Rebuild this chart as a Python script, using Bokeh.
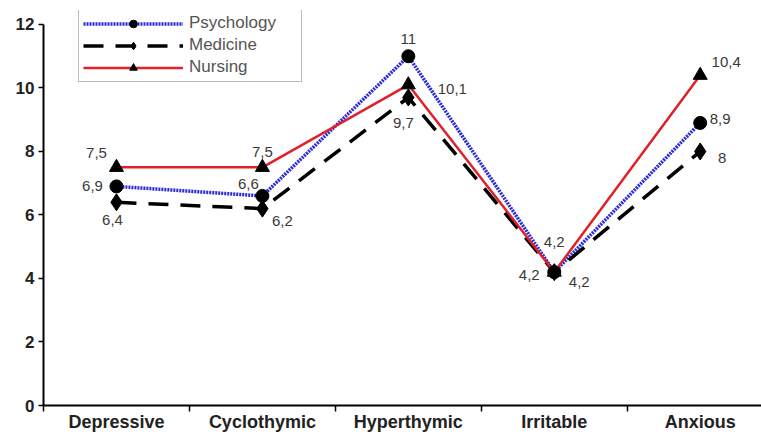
from bokeh.plotting import figure
from bokeh.models import (ColumnDataSource, Range1d, FixedTicker, Legend, LegendItem)
from bokeh.core.properties import value
from bokeh.embed import file_html
from bokeh.resources import INLINE

# ---- data ----
categories = ["Depressive", "Cyclothymic", "Hyperthymic", "Irritable", "Anxious"]
psychology = [6.9, 6.6, 11.0, 4.2, 8.9]
medicine = [6.4, 6.2, 9.7, 4.2, 8.0]
nursing = [7.5, 7.5, 10.1, 4.2, 10.4]
y_ticks = [0, 2, 4, 6, 8, 10, 12]

# label offsets (screen px) for the value annotations
psy_dx = [-24, -14, 0, 0, 20]
psy_dy = [0, -12, -17, -30, -4]
med_dx = [-4, 20, -5, 25, 22]
med_dy = [18, 12, 25, 10, 7]
nur_dx = [-20, 0, 44, -25, 26]
nur_dy = [-14, -15, 4, 3, -13]

FONT = "Liberation Sans"
xs = list(range(len(categories)))

p = figure(width=761, height=436, output_backend="svg", toolbar_location=None,
           x_range=Range1d(-0.5, 4.42), y_range=Range1d(0, 12.44))
p.min_border_left = 43
p.min_border_right = 0
p.min_border_top = 10
p.min_border_bottom = 31
p.outline_line_color = None
p.xgrid.visible = False
p.ygrid.visible = False
p.background_fill_color = "white"
p.border_fill_color = "white"

# axes
xa = p.xaxis[0]
xa.ticker = FixedTicker(ticks=xs, minor_ticks=[-0.5, 0.5, 1.5, 2.5, 3.5])
xa.major_label_overrides = {i: c for i, c in enumerate(categories)}
xa.major_tick_out = 0
xa.major_tick_in = 0
xa.minor_tick_out = 6
xa.minor_tick_in = 0
xa.minor_tick_line_color = "black"
xa.minor_tick_line_width = 1.5
xa.axis_line_width = 2
xa.axis_line_color = "black"
xa.major_label_text_font = FONT
xa.major_label_text_font_style = "bold"
xa.major_label_text_font_size = "18px"
xa.major_label_text_color = "#222222"
xa.major_label_standoff = 0

ya = p.yaxis[0]
ya.ticker = FixedTicker(ticks=y_ticks)
ya.bounds = (y_ticks[0], y_ticks[-1])
ya.major_tick_out = 5
ya.major_tick_in = 0
ya.major_tick_line_width = 1.5
ya.minor_tick_line_color = None
ya.axis_line_width = 2
ya.axis_line_color = "black"
ya.major_label_text_font = FONT
ya.major_label_text_font_style = "bold"
ya.major_label_text_font_size = "17px"
ya.major_label_text_color = "#222222"
ya.major_label_standoff = 4

# lines
l_psy = p.line(xs, psychology, line_color="#2a2ad8", line_width=3.5, line_dash="2 1")
l_med = p.line(xs, medicine, line_color="black", line_width=3.5, line_dash="20 12")
l_nur = p.line(xs, nursing, line_color="#e0202a", line_width=2.5)

# markers
m_med = p.scatter(xs, medicine, marker="diamond", size=17, fill_color="black", line_color="black")
m_nur = p.scatter(xs, nursing, marker="triangle", size=14, fill_color="black", line_color="black")
m_psy = p.scatter(xs, psychology, marker="circle", size=13, fill_color="black", line_color="black")

def fmt(v):
    return f"{v:g}".replace(".", ",")

for vals, dx, dy in ((psychology, psy_dx, psy_dy), (medicine, med_dx, med_dy), (nursing, nur_dx, nur_dy)):
    src = ColumnDataSource(dict(x=xs, y=vals, t=[fmt(v) for v in vals], dx=dx, dy=dy))
    p.text(x="x", y="y", text="t", x_offset="dx", y_offset="dy", source=src,
           text_font=value(FONT), text_font_size="15px", text_color="#3a3a3a",
           text_align="center", text_baseline="middle")

legend = Legend(items=[
    LegendItem(label="Psychology", renderers=[l_psy, m_psy]),
    LegendItem(label="Medicine", renderers=[l_med, m_med]),
    LegendItem(label="Nursing", renderers=[l_nur, m_nur]),
], location=(35, 323))
legend.glyph_width = 100
legend.glyph_height = 19
legend.label_height = 19
legend.label_width = 108
legend.spacing = 2
legend.padding = 4
legend.margin = 0
legend.label_standoff = 6
legend.label_text_font = FONT
legend.label_text_font_size = "17px"
legend.label_text_color = "#555555"
legend.border_line_color = "#777777"
legend.border_line_width = 1.5
legend.background_fill_color = "white"
legend.background_fill_alpha = 1
p.add_layout(legend)

open("out.html", "w").write(file_html(p, INLINE))
